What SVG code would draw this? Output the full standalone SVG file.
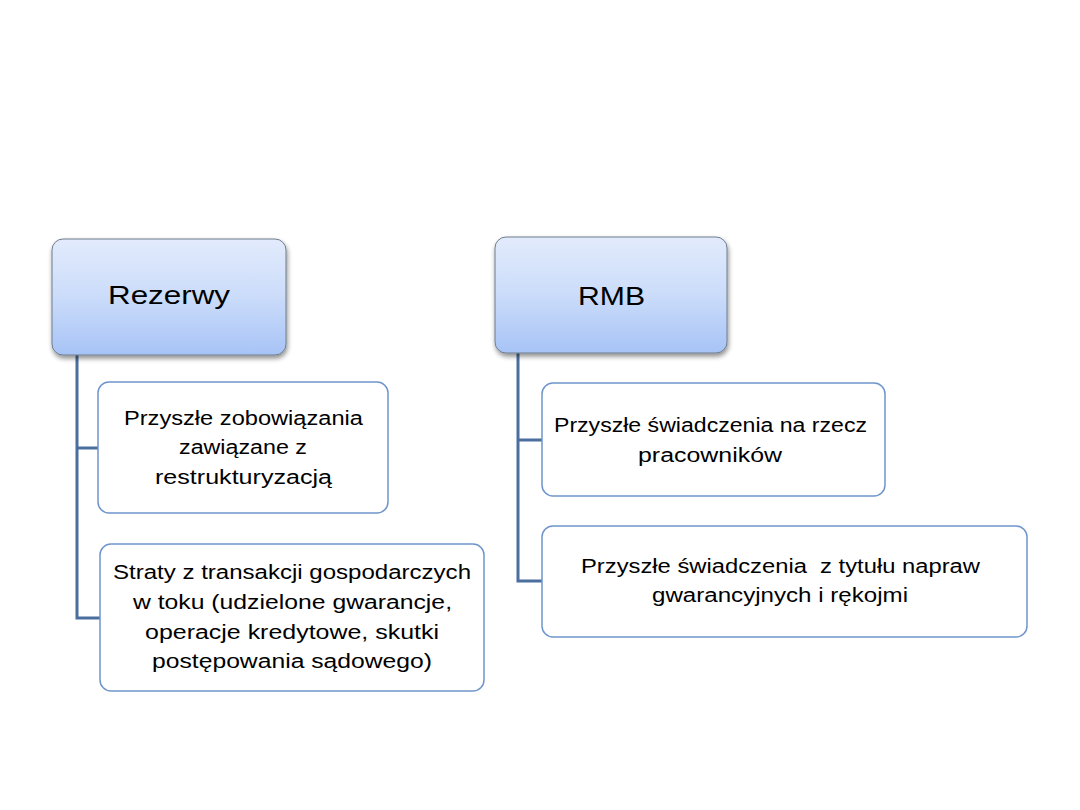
<svg xmlns="http://www.w3.org/2000/svg" width="1080" height="810" viewBox="0 0 1080 810">
  <defs>
    <linearGradient id="hdr" x1="0" y1="0" x2="0" y2="1">
      <stop offset="0" stop-color="#e2ebfc"/>
      <stop offset="0.5" stop-color="#cbdcfa"/>
      <stop offset="1" stop-color="#a7c3f6"/>
    </linearGradient>
    <filter id="sh" x="-10%" y="-10%" width="125%" height="130%">
      <feGaussianBlur in="SourceAlpha" stdDeviation="2.5"/>
      <feOffset dx="1" dy="3" result="b"/>
      <feComponentTransfer><feFuncA type="linear" slope="0.45"/></feComponentTransfer>
      <feMerge><feMergeNode/><feMergeNode in="SourceGraphic"/></feMerge>
    </filter>
  </defs>
  <style>
    .hdr { fill: url(#hdr); stroke: #6f7c8c; stroke-width: 1; filter: url(#sh); }
    .child { fill: #ffffff; stroke: #6f95cc; stroke-width: 1.5; }
    .conn { fill: none; stroke: #4a6f9f; stroke-width: 3; }
    .t { font-family: "Liberation Sans", Arial, sans-serif; fill: #000000; white-space: pre; }
    .th { font-size: 25px; }
    .tc { font-size: 20px; }
  </style>
  <rect width="1080" height="810" fill="#ffffff"/>

  <g id="connectors">
    <path class="conn" d="M77,355 V618 H100 M77,448 H98"/>
    <path class="conn" d="M518,353 V581 H542 M518,440 H542"/>
  </g>

  <g id="rezerwy">
    <rect class="hdr" x="52" y="239" width="234" height="116" rx="11"/>
    <text class="t th" x="108" y="304" textLength="122" lengthAdjust="spacingAndGlyphs">Rezerwy</text>
  </g>

  <g id="rmb">
    <rect class="hdr" x="495" y="237" width="232" height="116" rx="11"/>
    <text class="t th" x="578" y="305" textLength="67" lengthAdjust="spacingAndGlyphs">RMB</text>
  </g>

  <g id="rezerwy-1">
    <rect class="child" x="98" y="382" width="290" height="131" rx="11"/>
    <text class="t tc" x="124" y="425" textLength="239" lengthAdjust="spacingAndGlyphs">Przyszłe zobowiązania</text>
    <text class="t tc" x="179" y="454" textLength="128" lengthAdjust="spacingAndGlyphs">zawiązane z</text>
    <text class="t tc" x="155" y="484" textLength="177" lengthAdjust="spacingAndGlyphs">restrukturyzacją</text>
  </g>

  <g id="rezerwy-2">
    <rect class="child" x="100" y="544" width="384" height="147" rx="11"/>
    <text class="t tc" x="113" y="579" textLength="358" lengthAdjust="spacingAndGlyphs">Straty z transakcji gospodarczych</text>
    <text class="t tc" x="133" y="609" textLength="319" lengthAdjust="spacingAndGlyphs">w toku (udzielone gwarancje,</text>
    <text class="t tc" x="145" y="639" textLength="294" lengthAdjust="spacingAndGlyphs">operacje kredytowe, skutki</text>
    <text class="t tc" x="152" y="668" textLength="280" lengthAdjust="spacingAndGlyphs">postępowania sądowego)</text>
  </g>

  <g id="rmb-1">
    <rect class="child" x="542" y="383" width="343" height="113" rx="11"/>
    <text class="t tc" x="554" y="432" textLength="313" lengthAdjust="spacingAndGlyphs">Przyszłe świadczenia na rzecz</text>
    <text class="t tc" x="638" y="462" textLength="144" lengthAdjust="spacingAndGlyphs">pracowników</text>
  </g>

  <g id="rmb-2">
    <rect class="child" x="542" y="526" width="485" height="111" rx="11"/>
    <text class="t tc" x="581" y="573" textLength="399" lengthAdjust="spacingAndGlyphs">Przyszłe świadczenia  z tytułu napraw</text>
    <text class="t tc" x="652" y="602" textLength="256" lengthAdjust="spacingAndGlyphs">gwarancyjnych i rękojmi</text>
  </g>
</svg>
